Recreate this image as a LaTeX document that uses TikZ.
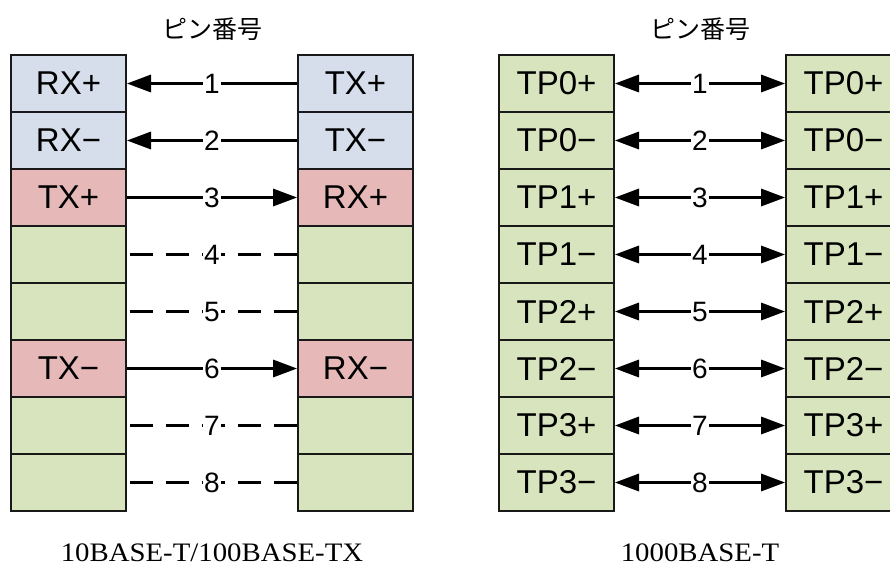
\documentclass[tikz,border=0pt]{standalone}
\usepackage{fontspec}
\setmainfont{Liberation Sans}
\newfontfamily\captionfont{Liberation Serif}
\newfontfamily\jpfont{Noto Sans CJK JP}
\usepackage{tikz}
\usetikzlibrary{arrows.meta}
\definecolor{rxblue}{RGB}{213,222,234}
\definecolor{txred}{RGB}{230,185,184}
\definecolor{pairgreen}{RGB}{215,228,189}
\tikzset{
    pinout/.style={
        x=0.75pt, y=-0.75pt,
        >={Triangle[length=18pt,width=13pt]},
        line cap=butt, line join=miter,
    },
    pinbox/.style={draw=black!90, line width=1.5pt, minimum width=86.25pt,
        minimum height=42.75pt, inner sep=0pt,
        font=\fontsize{24.75}{28}\selectfont},
    wire/.style={line width=1.7pt},
    nowire/.style={wire, dash pattern=on 17pt off 10pt},
    pinno/.style={fill=white, inner xsep=1pt, inner ysep=0pt,
        font=\fontsize{21}{24}\selectfont},
}
\newcommand{\pintitle}[2]{% \pintitle{name}{x}
    \node[font=\jpfont\fontsize{18.75}{22}\selectfont] (#1) at (#2,29) {ピン番号}
}
\newcommand{\standard}[3]{% \standard{name}{x}{text}
    \node[font=\captionfont\fontsize{20}{24}\selectfont, xscale=1.08] (#1) at (#2,553) {#3}
}

\begin{document}
\begin{tikzpicture}
            [pinout]
            \clip (0,0) rectangle (890,569);
            % 10BASE-T / 100BASE-TX
            \pintitle{titleA}{212};
            \foreach \n/\l/\lc/\r/\rc in {1/RX+/rxblue/TX+/rxblue, 2/RX−/rxblue/TX−/rxblue,
                3/TX+/txred/RX+/txred, 4/{}/pairgreen/{}/pairgreen, 5/{}/pairgreen/{}/pairgreen,
                6/TX−/txred/RX−/txred, 7/{}/pairgreen/{}/pairgreen, 8/{}/pairgreen/{}/pairgreen} {
                \node[pinbox, fill=\lc] (a\n) at (68.5,{26.5+57*\n}) {\l};
                \node[pinbox, fill=\rc] (b\n) at (355.5,{26.5+57*\n}) {\r};
            }
            \foreach \n in {1,2}
                \draw[wire,->] (b\n) -- node[pinno] (pa\n) {\n} (a\n);
            \foreach \n in {3,6}
                \draw[wire,->] (a\n) -- node[pinno] (pa\n) {\n} (b\n);
            \foreach \n in {4,5,7,8}
                \draw[nowire] (b\n) -- node[pinno] (pa\n) {\n} (a\n);
            \standard{stdA}{212}{10BASE-T/100BASE-TX};
            % 1000BASE-T
            \pintitle{titleB}{700};
            \foreach \n/\t in {1/TP0+, 2/TP0−, 3/TP1+, 4/TP1−, 5/TP2+, 6/TP2−, 7/TP3+, 8/TP3−} {
                \node[pinbox, fill=pairgreen] (c\n) at (556.5,{26.5+57*\n}) {\t};
                \node[pinbox, fill=pairgreen] (d\n) at (843.5,{26.5+57*\n}) {\t};
                \draw[wire,<->] (c\n) -- node[pinno] (pb\n) {\n} (d\n);
            }
            \standard{stdB}{700}{1000BASE-T};
        \end{tikzpicture}
\end{document}
